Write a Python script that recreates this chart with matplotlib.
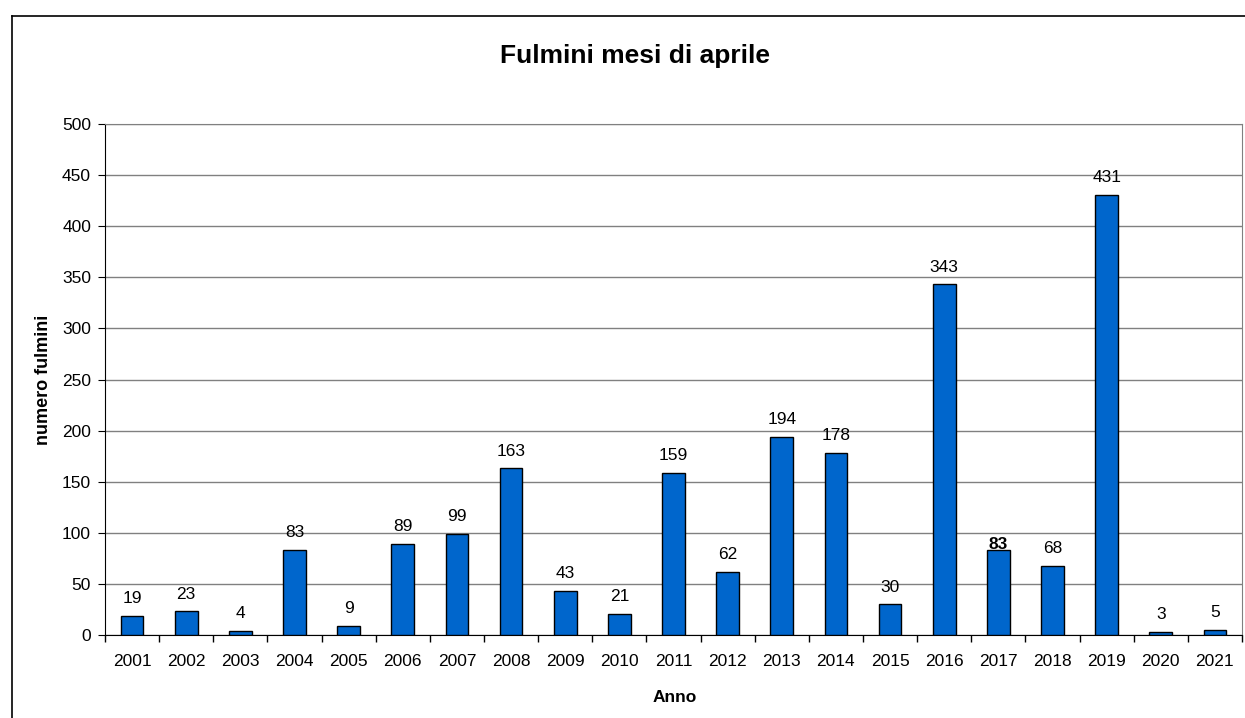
import numpy as np
import matplotlib.pyplot as plt
from matplotlib.lines import Line2D

plt.rcParams['font.family'] = ['Liberation Sans', 'DejaVu Sans']

# dati
anni = ['2001', '2002', '2003', '2004', '2005', '2006', '2007', '2008', '2009', '2010', '2011',
        '2012', '2013', '2014', '2015', '2016', '2017', '2018', '2019', '2020', '2021']
fulmini = [19, 23, 4, 83, 9, 89, 99, 163, 43, 21, 159, 62, 194, 178, 30, 343, 83, 68, 431, 3, 5]

W, H = 1245, 718
fig = plt.figure(figsize=(W / 100, H / 100), dpi=100)

# plot area in pixel
left, right, top, bottom = 105, 1242, 124, 635
ax = fig.add_axes([left / W, 1 - bottom / H, (right - left) / W, (bottom - top) / H])

x = np.arange(len(anni))
ax.bar(x, fulmini, width=0.42, color='#0066CC', edgecolor='black', linewidth=1.0, zorder=3)

for xi, v, a in zip(x, fulmini, anni):
    # nell'originale l'etichetta del 2017 e' in grassetto e appoggiata sulla barra
    if a == '2017':
        peso, dy = 'bold', -1
    else:
        peso, dy = 'normal', 7
    ax.annotate(str(v), (xi, v), xytext=(0, dy), textcoords='offset points',
                ha='center', va='bottom', fontsize=12.5, fontweight=peso, zorder=4)

ax.set_xlim(-0.5, len(anni) - 0.5)
ax.set_ylim(0, 500)
ax.set_yticks(np.arange(0, 501, 50))
ax.yaxis.grid(True, color='#808080', linewidth=1.0, zorder=0)
ax.set_axisbelow(True)

# ticks tra le categorie, etichette al centro
ax.set_xticks(np.arange(-0.5, len(anni), 1.0))
ax.set_xticklabels([])
ax.set_xticks(x, minor=True)
ax.set_xticklabels(anni, minor=True, fontsize=12.5)
ax.tick_params(axis='x', which='minor', length=0, pad=14)
ax.tick_params(axis='x', which='major', length=5, direction='out', width=1)
ax.tick_params(axis='y', length=5, direction='out', labelsize=12.5, pad=5)

for s in ['top', 'right']:
    ax.spines[s].set_color('#808080')
for s in ['left', 'bottom']:
    ax.spines[s].set_color('black')

fig.text(675 / W, 1 - 697 / H, 'Anno', ha='center', va='center',
         fontsize=12.5, fontweight='bold')
fig.text(44 / W, 1 - 380 / H, 'numero fulmini', ha='center', va='center',
         rotation=90, fontsize=13, fontweight='bold')
fig.text(635 / W, 1 - 56 / H, 'Fulmini mesi di aprile', ha='center', va='center',
         fontsize=19, fontweight='bold')

# bordo esterno del grafico
x0 = 12 / W
y0 = 1 - 16 / H
fig.add_artist(Line2D([x0, x0], [0, y0], color='black', linewidth=1.2, transform=fig.transFigure))
fig.add_artist(Line2D([x0, 1], [y0, y0], color='black', linewidth=1.2, transform=fig.transFigure))

fig.savefig('out.png', dpi=100)
